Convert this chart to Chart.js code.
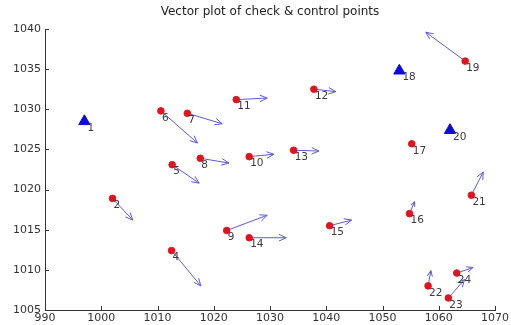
<!DOCTYPE html>
<html>
<head>
<meta charset="utf-8">
<script src="https://cdn.jsdelivr.net/npm/chart.js@4"></script>
<style>
  html, body { margin: 0; padding: 0; background: #fff; }
  #wrap { width: 511px; height: 325px; }
</style>
</head>
<body>
<div id="wrap"><canvas id="vecChart"></canvas></div>
<script>
// check points (red dots) and where their vectors end
const checkLabels = ["2", "4", "5", "6", "7", "8", "9", "10", "11", "12", "13", "14", "15", "16", "17", "19", "21", "22", "23", "24"];
const checkX = [1002.0, 1012.5, 1012.6, 1010.6, 1015.3, 1017.6, 1022.3, 1026.3, 1024.0, 1037.8, 1034.2, 1026.3, 1040.6, 1054.8, 1055.2, 1064.7, 1065.8, 1058.1, 1061.7, 1063.2];
const checkY = [1018.9, 1012.4, 1023.1, 1029.8, 1029.5, 1023.9, 1014.9, 1024.1, 1031.2, 1032.5, 1024.9, 1014.0, 1015.5, 1017.0, 1025.7, 1036.0, 1019.3, 1008.0, 1006.5, 1009.6];
const vecEndX = [1005.6, 1017.7, 1017.4, 1017.1, 1021.5, 1022.7, 1029.5, 1030.7, 1029.5, 1041.7, 1038.7, 1032.9, 1044.5, 1055.7, 1055.2, 1057.7, 1067.9, 1058.6, 1064.6, 1066.1];
const vecEndY = [1016.2, 1008.0, 1020.8, 1025.8, 1028.2, 1023.3, 1016.8, 1024.4, 1031.4, 1032.2, 1024.8, 1014.0, 1016.2, 1018.5, 1025.7, 1039.6, 1022.2, 1009.9, 1008.8, 1010.3];

// control points (blue triangles)
const ctrlLabels = ["1", "18", "20"];
const ctrlX = [997.0, 1053.0, 1062.0];
const ctrlY = [1028.5, 1034.8, 1027.4];

const xTicks = [990, 1000, 1010, 1020, 1030, 1040, 1050, 1060, 1070];
const yTicks = [1005, 1010, 1015, 1020, 1025, 1030, 1035, 1040];

const arrowColor = "rgb(90,90,220)";

// vectors as one line dataset, segments split by nulls
const vecData = [];
checkX.forEach((x, i) => {
  vecData.push({ x: x, y: checkY[i] });
  vecData.push({ x: vecEndX[i], y: vecEndY[i] });
  vecData.push({ x: x, y: null });
});

const arrowHeads = {
  id: "arrowHeads",
  afterDatasetsDraw(chart) {
    const ctx = chart.ctx;
    const xs = chart.scales.x, ys = chart.scales.y;
    ctx.save();
    ctx.strokeStyle = arrowColor;
    ctx.lineWidth = 1;
    checkX.forEach((x, i) => {
      const x0 = xs.getPixelForValue(x), y0 = ys.getPixelForValue(checkY[i]);
      const x1 = xs.getPixelForValue(vecEndX[i]), y1 = ys.getPixelForValue(vecEndY[i]);
      const len = Math.hypot(x1 - x0, y1 - y0);
      if (len < 1) return;
      const a = Math.atan2(y1 - y0, x1 - x0);
      const h = Math.min(8, len * 0.4);
      ctx.beginPath();
      ctx.moveTo(x1 - h * Math.cos(a - 0.42), y1 - h * Math.sin(a - 0.42));
      ctx.lineTo(x1, y1);
      ctx.lineTo(x1 - h * Math.cos(a + 0.42), y1 - h * Math.sin(a + 0.42));
      ctx.stroke();
    });
    ctx.restore();
  }
};

const pointNames = {
  id: "pointNames",
  afterDatasetsDraw(chart) {
    const ctx = chart.ctx;
    const xs = chart.scales.x, ys = chart.scales.y;
    ctx.save();
    ctx.font = "10.5px 'DejaVu Sans'";
    ctx.fillStyle = "#3a3a3a";
    ctx.textAlign = "left";
    ctx.textBaseline = "middle";
    checkX.forEach((x, i) => {
      ctx.fillText(checkLabels[i], xs.getPixelForValue(x) + 1, ys.getPixelForValue(checkY[i]) + 7);
    });
    ctrlX.forEach((x, i) => {
      ctx.fillText(ctrlLabels[i], xs.getPixelForValue(x) + 3, ys.getPixelForValue(ctrlY[i]) + 7);
    });
    ctx.restore();
  }
};

// matlab style ticks pointing into the plot
const innerTicks = {
  id: "innerTicks",
  afterDraw(chart) {
    const ctx = chart.ctx;
    const xs = chart.scales.x, ys = chart.scales.y;
    const area = chart.chartArea;
    ctx.save();
    ctx.strokeStyle = "#333";
    ctx.lineWidth = 1;
    ctx.beginPath();
    xTicks.forEach(v => {
      const px = Math.round(xs.getPixelForValue(v)) + 0.5;
      ctx.moveTo(px, area.bottom);
      ctx.lineTo(px, area.bottom - 4);
    });
    yTicks.forEach(v => {
      const py = Math.round(ys.getPixelForValue(v)) + 0.5;
      ctx.moveTo(area.left, py);
      ctx.lineTo(area.left + 4, py);
    });
    ctx.stroke();
    ctx.restore();
  }
};

new Chart(document.getElementById("vecChart"), {
  type: "scatter",
  data: {
    datasets: [
      {
        label: "check points",
        data: checkX.map((x, i) => ({ x: x, y: checkY[i] })),
        backgroundColor: "rgb(225,20,30)",
        borderColor: "rgb(225,20,30)",
        pointRadius: 3.3,
        order: 0
      },
      {
        label: "control points",
        data: ctrlX.map((x, i) => ({ x: x, y: ctrlY[i] })),
        pointStyle: "triangle",
        backgroundColor: "rgb(10,10,225)",
        borderColor: "rgb(10,10,225)",
        pointRadius: 6.5,
        order: 0
      },
      {
        type: "line",
        label: "vectors",
        data: vecData,
        borderColor: arrowColor,
        borderWidth: 1,
        pointRadius: 0,
        spanGaps: false,
        order: 1
      }
    ]
  },
  options: {
    responsive: true,
    maintainAspectRatio: false,
    animation: false,
    layout: { padding: { top: 0, right: 14, left: 0, bottom: 0 } },
    plugins: {
      legend: { display: false },
      tooltip: { enabled: false },
      title: {
        display: true,
        text: "Vector plot of check & control points",
        fullSize: false,
        color: "#222",
        font: { family: "'DejaVu Sans'", size: 12, weight: "normal" },
        padding: { top: 5, bottom: 9.6 }
      }
    },
    scales: {
      x: {
        type: "linear",
        min: 990,
        max: 1070,
        afterFit: s => { s.height = 15; },
        afterBuildTicks: s => { s.ticks = xTicks.map(v => ({ value: v })); },
        grid: { display: false, drawTicks: false },
        border: { display: true, color: "#333", width: 1 },
        ticks: { padding: 2, color: "#333", font: { family: "'DejaVu Sans'", size: 11 }, callback: v => String(v) }
      },
      y: {
        type: "linear",
        min: 1005,
        max: 1040,
        afterFit: s => { s.width = 45; },
        afterBuildTicks: s => { s.ticks = yTicks.map(v => ({ value: v })); },
        grid: { display: false, drawTicks: false },
        border: { display: true, color: "#333", width: 1 },
        ticks: { padding: 4, color: "#333", font: { family: "'DejaVu Sans'", size: 11 }, callback: v => String(v) }
      }
    }
  },
  plugins: [arrowHeads, pointNames, innerTicks]
});
</script>
</body>
</html>
